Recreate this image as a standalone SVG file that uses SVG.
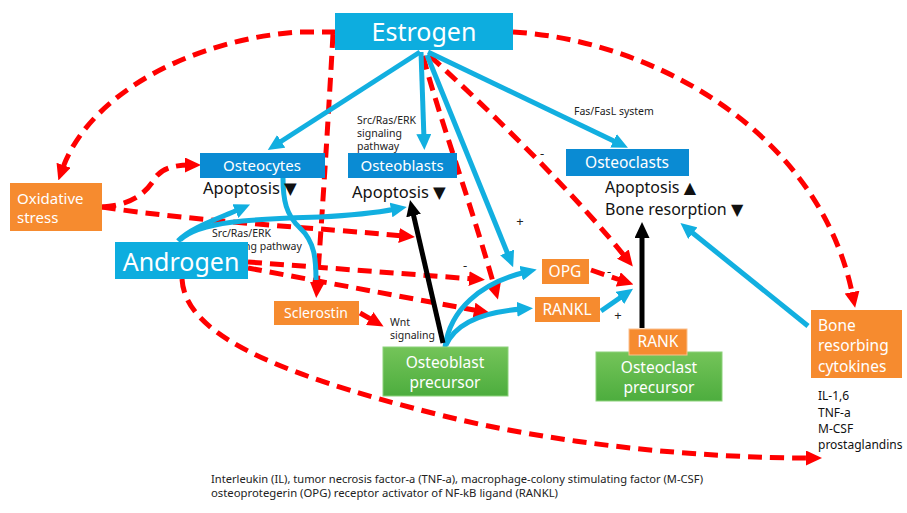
<svg xmlns="http://www.w3.org/2000/svg" width="907" height="513" viewBox="0 0 907 513">
<style>
text{font-family:"Noto Sans","Open Sans","DejaVu Sans",sans-serif}
.bl{fill:#0DADDF}
.db{fill:#0A8BD3}
.or{fill:#F68B2F}
.gr{fill:url(#g)}
.wt{fill:#fff}
.bk{fill:#111}
.cb{fill:none;stroke:#12AFE0;stroke-width:5}
.cr{fill:none;stroke:#FF0000;stroke-width:5;stroke-dasharray:14 8}
.ck{fill:none;stroke:#000;stroke-width:5}
.ab{marker-end:url(#mb)}
.ar{marker-end:url(#mr)}
.ak{marker-end:url(#mk)}
.sm{font-size:10.5px;fill:#222}
</style>
<defs>
<linearGradient id="g" x1="0" y1="0" x2="0" y2="1"><stop offset="0" stop-color="#74C459"/><stop offset="1" stop-color="#4DAD3E"/></linearGradient>
<marker id="mb" markerUnits="userSpaceOnUse" viewBox="0 0 16 15" refX="5" refY="7.5" markerWidth="16" markerHeight="15" orient="auto"><path d="M0,0L16,7.5L0,15z" fill="#12AFE0"/></marker>
<marker id="mr" markerUnits="userSpaceOnUse" viewBox="0 0 16 15" refX="5" refY="7.5" markerWidth="16" markerHeight="15" orient="auto"><path d="M0,0L16,7.5L0,15z" fill="#FF0000"/></marker>
<marker id="mk" markerUnits="userSpaceOnUse" viewBox="0 0 16 15" refX="5" refY="7.5" markerWidth="16" markerHeight="15" orient="auto"><path d="M0,0L16,7.5L0,15z" fill="#000"/></marker>
</defs>
<rect width="907" height="513" fill="#fff"/>

<g id="connectors">
<path class="cr ar" d="M336,32 L300,32 C200,38 90,90 62,170"/>
<path class="cr ar" d="M333,34 Q326,160 317,287"/>
<path class="cr ar" d="M513,32 C650,40 820,130 853,297"/>
<path class="cr ar" d="M102,207 C130,205 145,195 155,178 C162,168 175,165 190,165"/>
<path class="cr ar" d="M102,207 C200,222 320,228 404,236"/>
<path class="cr ar" d="M248,262 L474,279"/>
<path class="cr ar" d="M248,268 L479,311"/>
<path class="cr ar" d="M423,56 C440,120 470,200 495,289"/>
<path class="cr ar" d="M430,56 C500,120 580,200 626,258"/>
<path class="cr ar" d="M591,270 L623,281"/>
<path class="cr ar" d="M360,313 L374,321"/>
<path class="cr ar" d="M182,279 C185,330 260,370 440,415 C560,445 700,458 811,458"/>
<path class="cb ab" d="M420,52 L277,144"/>
<path class="cb ab" d="M421,52 L424,139"/>
<path class="cb ab" d="M427,55 L509,257"/>
<path class="cb ab" d="M428,52 L618,143"/>
<path class="cb ab" d="M178,241 C190,228 215,220 240,209"/>
<path class="cb ab" d="M180,240 C200,220 260,219 320,217 C360,215 380,212 396,209"/>
<path class="cb" d="M283,178 C283,200 286,215 300,228 C315,242 316,260 316,280"/>
<path class="cb ab" d="M445,347 C450,310 480,283 526,272"/>
<path class="cb ab" d="M446,345 C455,325 480,312 522,309"/>
<path class="cb ab" d="M601,311 L624,295"/>
<path class="cb ab" d="M808,326 L689,230"/>
<path class="ck ak" d="M443,343 L412.5,210.7"/>
<path class="ck ak" d="M642,328 L642,233"/>
</g>

<g id="labels">
<text class="sm" x="357" y="124">Src/Ras/ERK</text>
<text class="sm" x="357" y="137">signaling</text>
<text class="sm" x="357" y="150">pathway</text>
<text class="sm" x="212" y="237">Src/Ras/ERK</text>
<text class="sm" x="212" y="250">signaling pathway</text>
<text class="sm" x="574" y="115">Fas/FasL system</text>
<text class="sm" x="390" y="326">Wnt</text>
<text class="sm" x="390" y="339">signaling</text>
<text x="542" y="158" font-size="13" fill="#222" text-anchor="middle">-</text>
<text x="520" y="226" font-size="13" fill="#222" text-anchor="middle">+</text>
<text x="465" y="270" font-size="13" fill="#222" text-anchor="middle">-</text>
<text x="609" y="276" font-size="13" fill="#222" text-anchor="middle">-</text>
<text x="618" y="320" font-size="13" fill="#222" text-anchor="middle">+</text>
</g>

<g id="estrogen"><rect class="bl" x="335" y="13" width="178" height="37"/><text class="wt" x="424" y="41" font-size="25" text-anchor="middle">Estrogen</text></g>
<g id="osteocytes"><rect class="db" x="200" y="153" width="125" height="25"/><text class="wt" x="262" y="171" font-size="15" text-anchor="middle">Osteocytes</text>
<text class="bk" x="203" y="194" font-size="16.5">Apoptosis ▼</text></g>
<g id="osteoblasts"><rect class="db" x="348" y="153" width="109" height="25"/><text class="wt" x="402" y="171" font-size="15" text-anchor="middle">Osteoblasts</text>
<text class="bk" x="352" y="198" font-size="16.5">Apoptosis ▼</text></g>
<g id="osteoclasts"><rect class="db" x="566" y="149" width="123" height="27"/><text class="wt" x="627" y="168" font-size="15.5" text-anchor="middle">Osteoclasts</text>
<text class="bk" x="605" y="193" font-size="16">Apoptosis ▲</text>
<text class="bk" x="605" y="215" font-size="16">Bone resorption ▼</text></g>
<g id="oxidative"><rect class="or" x="10" y="183" width="92" height="48"/><text class="wt" x="17" y="204" font-size="15">Oxidative</text><text class="wt" x="17" y="223" font-size="15">stress</text></g>
<g id="androgen"><rect class="bl" x="115" y="242" width="133" height="37"/><text class="wt" x="181" y="271" font-size="25" text-anchor="middle">Androgen</text></g>
<g id="sclerostin"><rect class="or" x="274" y="301" width="85" height="24"/><text class="wt" x="316" y="318" font-size="14" text-anchor="middle">Sclerostin</text></g>
<g id="osteoblast-precursor"><rect class="gr" x="383" y="347" width="125" height="49" stroke="#8CD27A" stroke-width="1"/><text class="wt" x="445" y="368" font-size="15.5" text-anchor="middle">Osteoblast</text><text class="wt" x="445" y="388" font-size="15.5" text-anchor="middle">precursor</text></g>
<g id="opg"><rect class="or" x="542" y="259" width="47" height="25"/><text class="wt" x="565" y="277" font-size="15.5" text-anchor="middle">OPG</text></g>
<g id="rankl"><rect class="or" x="535" y="297" width="65" height="25"/><text class="wt" x="567" y="315" font-size="15.5" text-anchor="middle">RANKL</text></g>
<g id="osteoclast-precursor"><rect class="gr" x="596" y="352" width="126" height="49" stroke="#8CD27A" stroke-width="1"/><text class="wt" x="659" y="373" font-size="15.5" text-anchor="middle">Osteoclast</text><text class="wt" x="659" y="393" font-size="15.5" text-anchor="middle">precursor</text></g>
<g id="rank"><rect class="or" x="629" y="329" width="58" height="26" stroke="#FBC08E" stroke-width="1"/><text class="wt" x="658" y="347" font-size="15.5" text-anchor="middle">RANK</text></g>
<g id="cytokines"><rect class="or" x="811" y="310" width="91" height="68"/><text class="wt" x="818" y="331" font-size="15.5">Bone</text><text class="wt" x="818" y="351" font-size="15.5">resorbing</text><text class="wt" x="818" y="372" font-size="15.5">cytokines</text>
<text class="bk" x="818" y="400" font-size="12">IL-1,6</text><text class="bk" x="818" y="417" font-size="12">TNF-a</text><text class="bk" x="818" y="433" font-size="12">M-CSF</text><text class="bk" x="818" y="449" font-size="12">prostaglandins</text></g>
<g id="footer">
<text x="211" y="483" font-size="10.5" fill="#222" textLength="492" lengthAdjust="spacingAndGlyphs">Interleukin (IL), tumor necrosis factor-a (TNF-a), macrophage-colony stimulating factor (M-CSF)</text>
<text x="211" y="497" font-size="10.5" fill="#222" textLength="347" lengthAdjust="spacingAndGlyphs">osteoprotegerin (OPG) receptor activator of NF-kB ligand  (RANKL)</text>
</g>
</svg>
